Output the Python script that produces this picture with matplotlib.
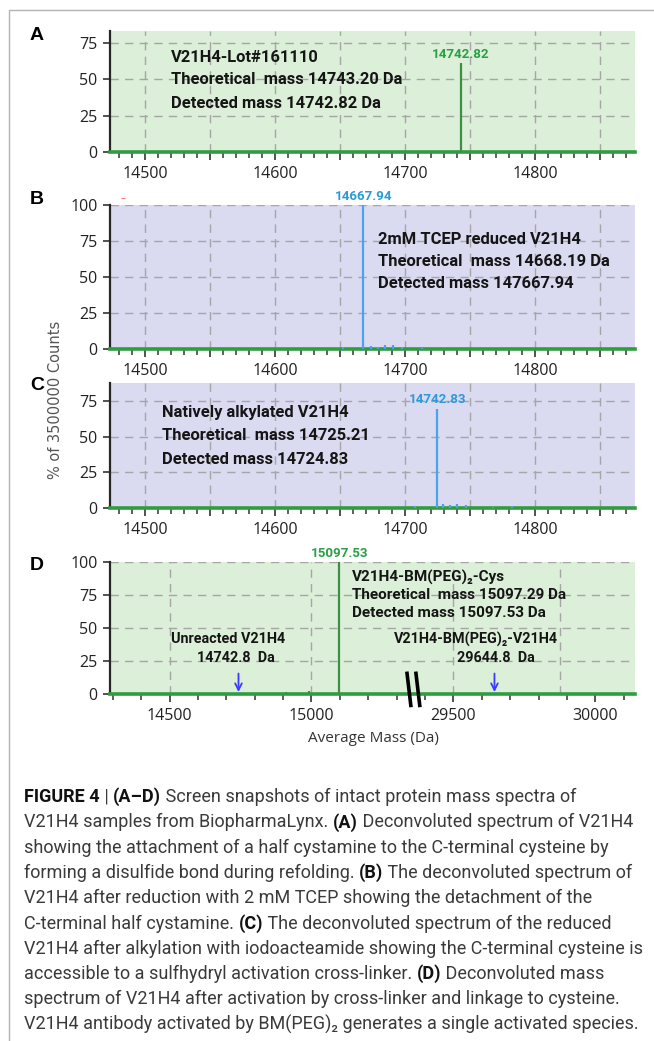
import numpy as np
import matplotlib
matplotlib.use('Agg')
import matplotlib.pyplot as plt
from matplotlib.lines import Line2D
from matplotlib.ticker import MultipleLocator, FixedLocator

# ---- values (% of 3500000 counts) ----
a_mass = [14742.82]
a_pct = [61]
a_peak_label = '14742.82'
a_text = ['V21H4-Lot#161110', 'Theoretical  mass 14743.20 Da', 'Detected mass 14742.82 Da']

b_mass = [14652, 14667.94, 14674, 14679, 14685, 14691, 14698, 14713]
b_pct = [1.5, 100, 2, 1.5, 2.5, 3, 1.5, 1]
b_peak_label = '14667.94'
b_text = ['2mM TCEP reduced V21H4', 'Theoretical  mass 14668.19 Da', 'Detected mass 147667.94']

c_mass = [14708, 14724.83, 14729, 14735, 14740, 14747, 14768, 14782]
c_pct = [1.5, 70, 3, 2, 2.5, 2, 1, 1.5]
c_peak_label = '14742.83'
c_text = ['Natively alkylated V21H4', 'Theoretical  mass 14725.21', 'Detected mass 14724.83']

d_mass = [14870, 14910, 14950, 14990, 15030, 15097.53, 15130]
d_pct = [1, 1.5, 1, 2, 1, 100, 1]
d_peak_label = '15097.53'
d_text = ['V21H4-BM(PEG)₂-Cys', 'Theoretical  mass 15097.29 Da', 'Detected mass 15097.53 Da']
d_arrow_mass = [14742.8, 29644.8]
d_arrow_text = [('Unreacted V21H4', '14742.8  Da'), ('V21H4-BM(PEG)₂-V21H4', '29644.8  Da')]

mass_ticks = [14500, 14600, 14700, 14800]
d_ticks = [14500, 15000, 29500, 30000]
d_grid = [14500, 15000, 29500, 29875]

caption_lines = [
    [('FIGURE 4', True), (' | ', False), ('(A–D)', True), (' Screen snapshots of intact protein mass spectra of', False)],
    [('V21H4 samples from BiopharmaLynx. ', False), ('(A)', True), (' Deconvoluted spectrum of V21H4', False)],
    [('showing the attachment of a half cystamine to the C-terminal cysteine by', False)],
    [('forming a disulfide bond during refolding. ', False), ('(B)', True), (' The deconvoluted spectrum of', False)],
    [('V21H4 after reduction with 2 mM TCEP showing the detachment of the', False)],
    [('C-terminal half cystamine. ', False), ('(C)', True), (' The deconvoluted spectrum of the reduced', False)],
    [('V21H4 after alkylation with iodoacteamide showing the C-terminal cysteine is', False)],
    [('accessible to a sulfhydryl activation cross-linker. ', False), ('(D)', True), (' Deconvoluted mass', False)],
    [('spectrum of V21H4 after activation by cross-linker and linkage to cysteine.', False)],
    [('V21H4 antibody activated by BM(PEG)₂ generates a single activated species.', False)],
]

plt.rcParams['font.family'] = ['Open Sans', 'DejaVu Sans']
NFAM = ['Roboto', 'DejaVu Sans']

W, H = 654, 1041
fig = plt.figure(figsize=(W / 100, H / 100), dpi=100)


def fx(x):
    return x / W


def fy(y):
    return 1 - y / H


L, R = 110, 635
GREEN_BG = '#dcefd8'
BLUE_BG = '#dadaf0'
GRID = '#a6a6a6'
BASE = '#2f9d3f'
GREEN_PK = '#3d8f45'
GREEN_LB = '#2a9f47'
BLUE_PK = '#4aa3f2'
BLUE_LB = '#2d9ad8'
TXT = '#151515'
DASH = (0, (6, 4.5))


def panel(top, bottom, bg, ymax, yticks):
    ax = fig.add_axes([fx(L), fy(bottom), (R - L) / W, (bottom - top) / H])
    ax.set_facecolor(bg)
    ax.set_axisbelow(True)
    ax.spines[['top', 'right']].set_visible(False)
    ax.spines['left'].set_color('#262626')
    ax.spines['left'].set_linewidth(1.6)
    ax.spines['bottom'].set_color(BASE)
    ax.spines['bottom'].set_linewidth(2.6)
    ax.set_ylim(0, ymax)
    ax.set_yticks(yticks)
    ax.tick_params(axis='y', length=5, width=1.2, color='#333', pad=4,
                   labelsize=11.5, labelcolor='#222')
    ax.tick_params(axis='x', which='major', length=6, width=1.2, color='#333',
                   pad=4, labelsize=11.5, labelcolor='#222')
    ax.tick_params(axis='x', which='minor', length=4, width=1.1, color='#333')
    ax.grid(True, axis='y', color=GRID, ls=DASH, lw=1.0)
    return ax


def mass_axis(ax):
    ax.set_xlim(14473, 14877)
    majors = np.arange(14500, 14900, 50)
    ax.set_xticks(majors, [str(v) if v in mass_ticks else '' for v in majors])
    ax.xaxis.set_minor_locator(MultipleLocator(10))
    ax.grid(True, axis='x', which='major', color=GRID, ls=DASH, lw=1.0)


def peaks(ax, mass, pct, color, label, lcolor):
    ax.vlines(mass, 0, pct, color=color, lw=1.6, zorder=3)
    i = int(np.argmax(pct))
    ax.annotate(label, xy=(mass[i], pct[i]), xytext=(0, 1.5), textcoords='offset points',
                ha='center', va='bottom', color=lcolor, fontsize=9.6,
                family=NFAM, fontweight='bold', annotation_clip=False)


def text_block(x, ys, lines, size):
    for y, s in zip(ys, lines):
        fig.text(fx(x), fy(y), s, ha='left', va='center', fontsize=size,
                 family=NFAM, fontweight='bold', color=TXT)


# ---- A ----
axA = panel(31, 152, GREEN_BG, 83, [0, 25, 50, 75])
mass_axis(axA)
peaks(axA, a_mass, a_pct, GREEN_PK, a_peak_label, GREEN_LB)
text_block(171, [58, 80, 103], a_text, 11.9)

# ---- B ----
axB = panel(205, 349, BLUE_BG, 100, [0, 25, 50, 75, 100])
mass_axis(axB)
peaks(axB, b_mass, b_pct, BLUE_PK, b_peak_label, BLUE_LB)
text_block(378, [240, 262, 284], b_text, 11.9)
fig.text(fx(123), fy(199), '–', color='#ff5a5a', fontsize=7, ha='center', va='center')

# ---- C ----
axC = panel(383, 508, BLUE_BG, 88, [0, 25, 50, 75])
mass_axis(axC)
peaks(axC, c_mass, c_pct, BLUE_PK, c_peak_label, BLUE_LB)
text_block(162, [413, 436, 459], c_text, 11.9)

# ---- D (broken mass axis) ----
BREAK_LO, BREAK_HI = 15360, 29360


def fwd(x):
    x = np.asarray(x, float)
    return np.where(x <= BREAK_LO, x, x - (BREAK_HI - BREAK_LO))


def inv(x):
    x = np.asarray(x, float)
    return np.where(x <= BREAK_LO, x, x + (BREAK_HI - BREAK_LO))


axD = panel(562, 694, GREEN_BG, 100, [0, 25, 50, 75, 100])
axD.set_xscale('function', functions=(fwd, inv))
axD.set_xlim(14290, 30140)
axD.set_xticks(d_ticks, [str(v) for v in d_ticks])
minor = [v for v in list(range(14300, 15400, 100)) + list(range(29400, 30200, 100)) if v not in d_ticks]
axD.xaxis.set_minor_locator(FixedLocator(minor))
for g in d_grid:
    axD.axvline(g, color=GRID, ls=DASH, lw=1.0, zorder=0.5)
peaks(axD, d_mass, d_pct, GREEN_PK, d_peak_label, GREEN_LB)
text_block(352, [577, 595, 613], d_text, 11.0)
for m, (t1, t2), cx1, cx2 in zip(d_arrow_mass, d_arrow_text, [228, 476], [236, 496]):
    axD.annotate('', xy=(m, 1.5), xytext=(m, 15.5),
                 arrowprops=dict(arrowstyle='->', color='#3b3bff', lw=1.3,
                                 mutation_scale=12, shrinkA=0, shrinkB=0))
    fig.text(fx(cx1), fy(639), t1, ha='center', va='center', fontsize=10.4,
             family=NFAM, fontweight='bold', color=TXT)
    fig.text(fx(cx2), fy(658), t2, ha='center', va='center', fontsize=10.4,
             family=NFAM, fontweight='bold', color=TXT)

# break marks
xlo, xhi = fwd(axD.get_xlim())
bc = (fwd(BREAK_LO) - xlo) / (xhi - xlo)
for off in (-0.013, 0.004):
    axD.plot([bc + off, bc + off + 0.008], [0.17, -0.10], transform=axD.transAxes,
             color='black', lw=2.6, clip_on=False, zorder=5, solid_capstyle='butt')

# ---- labels, frame, caption ----
for letter, y in zip('ABCD', [35, 200, 385, 565]):
    fig.text(fx(37), fy(y), letter, ha='center', va='center', fontsize=14,
             family='Liberation Sans', fontweight='bold', color='black')
fig.text(fx(56), fy(400), '% of 3500000 Counts', rotation=90, ha='center', va='center',
         family='DejaVu Sans', fontsize=10.5, color='#555555')
fig.text(fx(373), fy(739), 'Average Mass (Da)', ha='center', va='center', fontsize=11, color='#333333')

fig.add_artist(Line2D([fx(9), fx(9), fx(654)], [fy(1041), fy(10), fy(10)],
                      color='#b3b3b3', lw=1.0, transform=fig.transFigure))

renderer = fig.canvas.get_renderer()


def advance(s, **kw):
    t1 = fig.text(0, 0, s + '|', **kw)
    t0 = fig.text(0, 0, '|', **kw)
    w = t1.get_window_extent(renderer).width - t0.get_window_extent(renderer).width
    t1.remove()
    t0.remove()
    return w


for i, parts in enumerate(caption_lines):
    x = 24
    y = 797 + i * 25.3
    for s, bold in parts:
        kw = dict(fontsize=13.0, family=NFAM, fontweight='bold' if bold else 'normal',
                  color='#111111' if bold else '#3a3a3a')
        fig.text(fx(x), fy(y), s, ha='left', va='center', **kw)
        x += advance(s, **kw)

fig.savefig('out.png', dpi=100)
